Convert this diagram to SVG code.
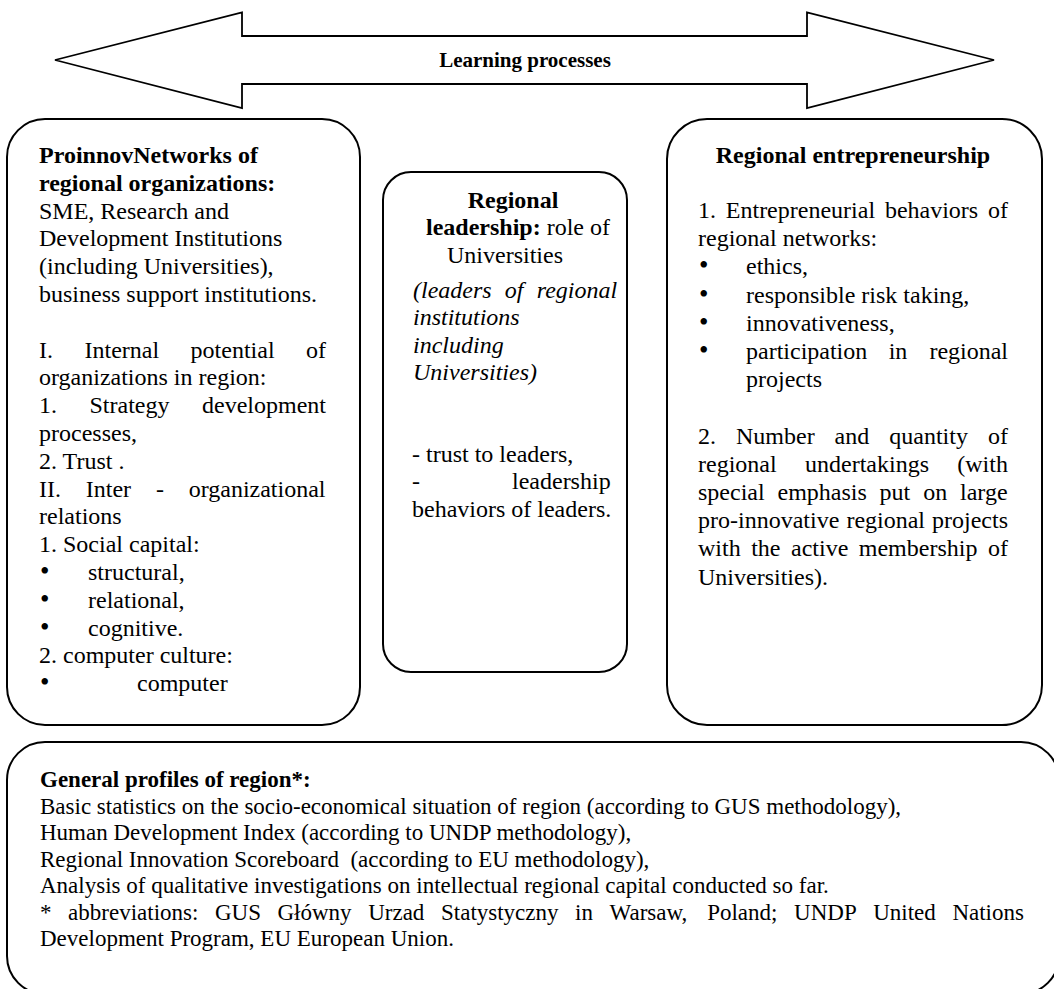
<svg xmlns="http://www.w3.org/2000/svg" width="1054" height="989" viewBox="0 0 1054 989">
<style>
text{font-family:"Liberation Serif","Times New Roman",serif;font-size:24px;fill:#000}
.b{font-weight:bold}
.i{font-style:italic}
.s23{font-size:23px}
.bu{font-size:27px}
.box{fill:#fff;stroke:#000;stroke-width:2}
.arr{fill:#fff;stroke:#000;stroke-width:1.8;stroke-linejoin:miter}
.c{text-anchor:middle}
</style>
<rect width="1054" height="989" fill="#fff"/>
<g id="connectors"></g>

<g id="learning-processes">
<polygon class="arr" points="55,60 242,12.5 242,36 807,36 807,12.5 994,60 807,108 807,84 242,84 242,108"/>
<text class="b c" x="525" y="67" style="font-size:21px">Learning processes</text>
</g>

<g id="proinnov-networks">
<rect class="box" x="7" y="119" width="353" height="606" rx="38"/>
<text class="b" x="39" y="163">ProinnovNetworks of</text>
<text class="b" x="39" y="190.8">regional organizations:</text>
<text x="39" y="218.6">SME, Research and</text>
<text x="39" y="246.4">Development Institutions</text>
<text x="39" y="274.2">(including Universities),</text>
<text x="39" y="302">business support institutions.</text>
<text y="357.6"><tspan x="39">I.</tspan><tspan x="84.5">Internal</tspan><tspan x="190.6">potential</tspan><tspan x="306">of</tspan></text>
<text x="39" y="385.4">organizations in region:</text>
<text y="413.2"><tspan x="39">1.</tspan><tspan x="89.5">Strategy</tspan><tspan x="202">development</tspan></text>
<text x="39" y="441">processes,</text>
<text x="39" y="468.8">2. Trust .</text>
<text y="496.6"><tspan x="39">II.</tspan><tspan x="85.8">Inter</tspan><tspan x="155.9">-</tspan><tspan x="188.7">organizational</tspan></text>
<text x="39" y="524.4">relations</text>
<text x="39" y="552.2">1. Social capital:</text>
<text y="580"><tspan class="bu" x="40">•</tspan><tspan x="88">structural,</tspan></text>
<text y="607.8"><tspan class="bu" x="40">•</tspan><tspan x="88">relational,</tspan></text>
<text y="635.6"><tspan class="bu" x="40">•</tspan><tspan x="88">cognitive.</tspan></text>
<text x="39" y="663.4">2. computer culture:</text>
<text y="691.2"><tspan class="bu" x="40">•</tspan><tspan x="137">computer</tspan></text>
</g>

<g id="regional-leadership">
<rect class="box" x="383" y="172" width="244" height="500" rx="28"/>
<text class="b c" x="513" y="208">Regional</text>
<text class="c" x="518" y="235.3"><tspan class="b">leadership:</tspan> role of</text>
<text class="c" x="505" y="262.6">Universities</text>
<text class="i" y="298"><tspan x="413">(leaders</tspan><tspan x="504.8">of</tspan><tspan x="536.7">regional</tspan></text>
<text class="i" x="413" y="325.3">institutions</text>
<text class="i" x="413" y="352.6">including</text>
<text class="i" x="413" y="379.9">Universities)</text>
<text x="412" y="462">- trust to leaders,</text>
<text y="489.3"><tspan x="412">-</tspan><tspan x="512">leadership</tspan></text>
<text x="412" y="516.6">behaviors of leaders.</text>
</g>

<g id="regional-entrepreneurship">
<rect class="box" x="667" y="119" width="375" height="606" rx="40"/>
<text class="b c" x="853" y="163">Regional entrepreneurship</text>
<text y="218"><tspan x="698">1.</tspan><tspan x="725.8">Entrepreneurial</tspan><tspan x="884.9">behaviors</tspan><tspan x="988">of</tspan></text>
<text x="698" y="246.2">regional networks:</text>
<text y="274.4"><tspan class="bu" x="699">•</tspan><tspan x="746">ethics,</tspan></text>
<text y="302.6"><tspan class="bu" x="699">•</tspan><tspan x="746">responsible risk taking,</tspan></text>
<text y="330.8"><tspan class="bu" x="699">•</tspan><tspan x="746">innovativeness,</tspan></text>
<text y="359"><tspan class="bu" x="699">•</tspan><tspan x="746">participation</tspan><tspan x="888.7">in</tspan><tspan x="929.4">regional</tspan></text>
<text x="746" y="387.2">projects</text>
<text y="443.6"><tspan x="698">2.</tspan><tspan x="736">Number</tspan><tspan x="834.6">and</tspan><tspan x="889.3">quantity</tspan><tspan x="988">of</tspan></text>
<text y="471.8"><tspan x="698">regional</tspan><tspan x="805">undertakings</tspan><tspan x="957.3">(with</tspan></text>
<text y="500"><tspan x="698">special</tspan><tspan x="777.5">emphasis</tspan><tspan x="879.6">put</tspan><tspan x="923.2">on</tspan><tspan x="960">large</tspan></text>
<text y="528.2"><tspan x="698">pro-innovative</tspan><tspan x="846.4">regional</tspan><tspan x="932">projects</tspan></text>
<text y="556.4"><tspan x="698">with</tspan><tspan x="751.2">the</tspan><tspan x="791">active</tspan><tspan x="858.8">membership</tspan><tspan x="988">of</tspan></text>
<text x="698" y="584.6">Universities).</text>
</g>

<g id="general-profiles">
<rect class="box" x="7" y="742" width="1052" height="252" rx="38"/>
<text class="b s23" x="40" y="787">General profiles of region*:</text>
<text class="s23" x="40" y="813.5">Basic statistics on the socio-economical situation of region (according to GUS methodology),</text>
<text class="s23" x="40" y="840">Human Development Index (according to UNDP methodology),</text>
<text class="s23" x="40" y="866.5">Regional Innovation Scoreboard&#160; (according to EU methodology),</text>
<text class="s23" x="40" y="893">Analysis of qualitative investigations on intellectual regional capital conducted so far.</text>
<text class="s23" y="919.5"><tspan x="40">*</tspan><tspan x="68.1">abbreviations:</tspan><tspan x="215">GUS</tspan><tspan x="277.5">Główny</tspan><tspan x="368.2">Urzad</tspan><tspan x="441">Statystyczny</tspan><tspan x="575.1">in</tspan><tspan x="609.6">Warsaw,</tspan><tspan x="707.2">Poland;</tspan><tspan x="794.1">UNDP</tspan><tspan x="873.2">United</tspan><tspan x="952.4">Nations</tspan></text>
<text class="s23" x="40" y="946">Development Program, EU European Union.</text>
</g>
</svg>
